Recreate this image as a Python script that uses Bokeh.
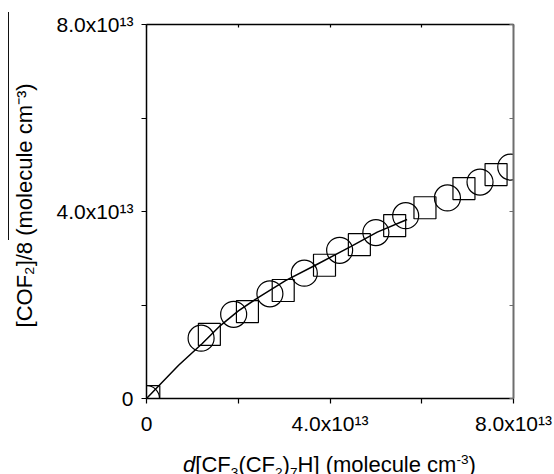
from bokeh.plotting import figure
from bokeh.models import Range1d, LinearAxis, FixedTicker, Div, Spacer
from bokeh.layouts import column, row
from bokeh.embed import file_html
from bokeh.resources import INLINE

# ---- data (molecule cm^-3) ----
circle_x = [0.0, 1.19e13, 1.90e13, 2.69e13, 3.44e13, 4.21e13, 5.00e13, 5.65e13, 6.56e13, 7.27e13, 7.94e13]
circle_y = [0.0, 1.29e13, 1.80e13, 2.24e13, 2.68e13, 3.17e13, 3.55e13, 3.91e13, 4.29e13, 4.63e13, 4.95e13]
square_x = [0.05e13, 1.37e13, 2.20e13, 2.98e13, 3.88e13, 4.64e13, 5.41e13, 6.07e13, 6.92e13, 7.62e13]
square_y = [0.04e13, 1.37e13, 1.86e13, 2.31e13, 2.85e13, 3.29e13, 3.70e13, 4.08e13, 4.49e13, 4.79e13]
fit_x = [0.0, 0.70e13, 1.21e13, 1.61e13, 2.01e13, 2.45e13, 3.03e13, 3.68e13, 4.45e13, 5.03e13, 5.68e13]
fit_y = [0.0, 0.71e13, 1.17e13, 1.56e13, 1.88e13, 2.17e13, 2.52e13, 2.85e13, 3.25e13, 3.56e13, 3.83e13]

tick_values = [0, 2e13, 4e13, 6e13, 8e13]
tick_labels = ["0", "", "4.0x10\u00b9\u00b3", "", "8.0x10\u00b9\u00b3"]

y_title = "\u00a0\u00a0[COF\u2082]/8 (molecule cm\u207b\u00b3)"
SUB = '<span style="font-size:62%;position:relative;top:0.35em">{}</span>'
SUP = '<span style="font-size:62%;position:relative;top:-0.6em">{}</span>'
x_title_html = ("<i>d</i>[CF" + SUB.format("3") + "(CF" + SUB.format("2") + ")" + SUB.format("7")
                + "H] (molecule cm" + SUP.format("-3") + ")")

FONT = "Liberation Sans"

p = figure(width=545, height=454, output_backend="svg", toolbar_location=None,
           x_range=Range1d(0, 8e13), y_range=Range1d(0, 8e13),
           min_border_left=137, min_border_right=41, min_border_top=24, min_border_bottom=56,
           x_axis_type=None, y_axis_type=None)
p.grid.visible = False
p.outline_line_color = None
p.background_fill_color = "white"
p.border_fill_color = "white"

overrides = {v: l for v, l in zip(tick_values, tick_labels)}

def make_axis(kind):
    ax = LinearAxis(ticker=FixedTicker(ticks=tick_values))
    ax.minor_tick_line_color = None
    ax.axis_line_color = "black"
    ax.major_tick_line_color = "black"
    ax.axis_line_width = 1.5
    ax.major_tick_line_width = 1.2
    if kind == "main":
        ax.major_label_overrides = overrides
        ax.major_tick_out = 5
        ax.major_tick_in = 0
        ax.major_label_standoff = 8
        ax.major_label_text_font = FONT
        ax.major_label_text_font_size = "21px"
        ax.major_label_text_color = "black"
    else:
        ax.major_tick_out = 0
        ax.major_tick_in = 4
        ax.major_label_standoff = 0
        ax.major_label_text_font_size = "0px"
        ax.major_label_text_color = None
    return ax

bottom = make_axis("main")
left = make_axis("main")
left.axis_label = y_title
left.axis_label_text_font = FONT
left.axis_label_text_font_size = "22px"
left.axis_label_text_font_style = "normal"
left.axis_label_text_color = "black"
left.axis_label_standoff = 16
top = make_axis("mirror")
top.major_tick_in = 3
right = make_axis("mirror")
right.axis_line_color = "#6e6e6e"
right.axis_line_width = 2
right.major_tick_line_color = "#6e6e6e"

p.add_layout(bottom, "below")
p.add_layout(left, "left")
p.add_layout(top, "above")
p.add_layout(right, "right")

# fit curve and data markers
p.line(fit_x, fit_y, line_color="black", line_width=1.5)
p.scatter(circle_x, circle_y, marker="circle", size=26, fill_color=None,
          line_color="black", line_width=1.2)
p.scatter(square_x, square_y, marker="square", size=22, fill_color=None,
          line_color="black", line_width=1.2)

# stray rule left of the y title in the scanned figure
edge_rule = Div(text="", width=1, height=228, margin=(12, 0, 0, 8),
                styles={"background-color": "#111111"})

# x-axis title with italic d and real sub/superscripts
x_title = Div(text=x_title_html, width=367, height=20, margin=(0, 0, 0, 0),
              styles={"font-family": FONT, "font-size": "22px", "line-height": "22px",
                      "text-align": "center", "color": "black", "white-space": "nowrap",
                      "overflow": "visible"})
right_part = column(p, row(Spacer(width=137, height=20, margin=(0, 0, 0, 0)), x_title,
                           margin=(0, 0, 0, 0)), margin=(0, 0, 0, 0))
layout = row(edge_rule, right_part, margin=(0, 0, 0, 0))

open("out.html", "w").write(file_html(layout, INLINE))
